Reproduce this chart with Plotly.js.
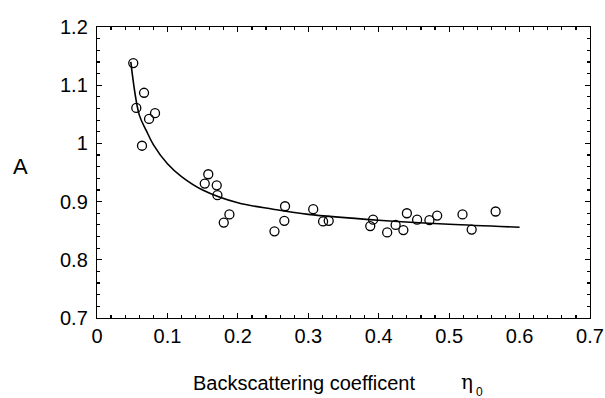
<!DOCTYPE html>
<html>
<head>
<meta charset="utf-8">
<script src="https://cdn.plot.ly/plotly-3.0.1.min.js"></script>
<style>html,body{margin:0;padding:0;background:#fff;}#chart{width:605px;height:398px;}</style>
</head>
<body>
<div id="chart"></div>
<script>
// Measured points: backscattering coefficient eta0 vs A
const etaPoints = [0.0515, 0.0668, 0.0558, 0.0739, 0.0824, 0.0639, 0.158, 0.153, 0.170, 0.171, 0.188, 0.180, 0.267, 0.266, 0.252, 0.307, 0.321, 0.329, 0.392, 0.388, 0.412, 0.424, 0.435, 0.440, 0.4545, 0.472, 0.483, 0.519, 0.532, 0.566];
const aPoints   = [1.138, 1.087, 1.061, 1.042, 1.052, 0.996, 0.947, 0.931, 0.928, 0.911, 0.878, 0.864, 0.892, 0.867, 0.849, 0.887, 0.866, 0.867, 0.869, 0.858, 0.847, 0.860, 0.851, 0.880, 0.869, 0.868, 0.876, 0.878, 0.852, 0.883];

// Fitted curve
const etaCurve = [0.048, 0.06, 0.07, 0.08, 0.1, 0.12, 0.15, 0.2, 0.25, 0.3, 0.4, 0.5, 0.6];
const aCurve   = [1.140, 1.049, 1.022, 0.998, 0.965, 0.943, 0.920, 0.898, 0.887, 0.878, 0.868, 0.861, 0.856];

const xRange = [0, 0.7];
const yRange = [0.7, 1.2];
const majorStep = 0.1;
const minorStep = 0.02;

const font = 'Liberation Sans, Arial, sans-serif';

const traces = [
  {
    x: etaCurve, y: aCurve, type: 'scatter', mode: 'lines',
    line: {color: '#000', width: 1.6, shape: 'spline', smoothing: 1.0},
    hoverinfo: 'skip', showlegend: false
  },
  {
    x: etaPoints, y: aPoints, type: 'scatter', mode: 'markers',
    marker: {symbol: 'circle-open', size: 9, color: '#000', line: {color: '#000', width: 1.3}},
    showlegend: false
  }
];

const axisCommon = {
  showgrid: false, zeroline: false, showline: true, linecolor: '#000', linewidth: 1.2,
  mirror: 'allticks', ticks: 'inside', ticklen: 5, tickwidth: 1.2, tickcolor: '#000',
  tickmode: 'linear', dtick: majorStep,
  tickfont: {family: font, size: 20, color: '#000'}
};

const layout = {
  width: 605, height: 398,
  margin: {l: 97, r: 15, t: 27, b: 80},
  paper_bgcolor: '#fff', plot_bgcolor: '#fff',
  xaxis: Object.assign({}, axisCommon, {
    range: xRange, tick0: 0,
    minor: {tickmode: 'linear', tick0: 0, dtick: minorStep, ticks: 'inside', ticklen: 3, tickcolor: '#000', tickwidth: 1.2, showgrid: false}
  }),
  yaxis: Object.assign({}, axisCommon, {
    range: yRange, tick0: 0.7, ticklabelstandoff: 4,
    minor: {tickmode: 'linear', tick0: 0.7, dtick: minorStep, ticks: 'inside', ticklen: 3, tickcolor: '#000', tickwidth: 1.2, showgrid: false}
  }),
  annotations: [
    {text: 'A', xref: 'paper', yref: 'paper', x: -0.155, y: 0.519, showarrow: false,
     font: {family: font, size: 22, color: '#000'}, xanchor: 'center', yanchor: 'middle'},
    {text: 'Backscattering coefficent', xref: 'paper', yref: 'paper', x: 0.4195, y: -0.223, showarrow: false,
     font: {family: font, size: 20, color: '#000'}, xanchor: 'center', yanchor: 'middle'},
    {text: 'η', xref: 'paper', yref: 'paper', x: 0.750, y: -0.22, showarrow: false,
     font: {family: 'DejaVu Serif, serif', size: 20, color: '#000'}, xanchor: 'center', yanchor: 'middle'},
    {text: '0', xref: 'paper', yref: 'paper', x: 0.776, y: -0.255, showarrow: false,
     font: {family: font, size: 12, color: '#000000'}, xanchor: 'center', yanchor: 'middle'}
  ]
};

Plotly.newPlot('chart', traces, layout, {staticPlot: true, displayModeBar: false});
</script>
</body>
</html>
